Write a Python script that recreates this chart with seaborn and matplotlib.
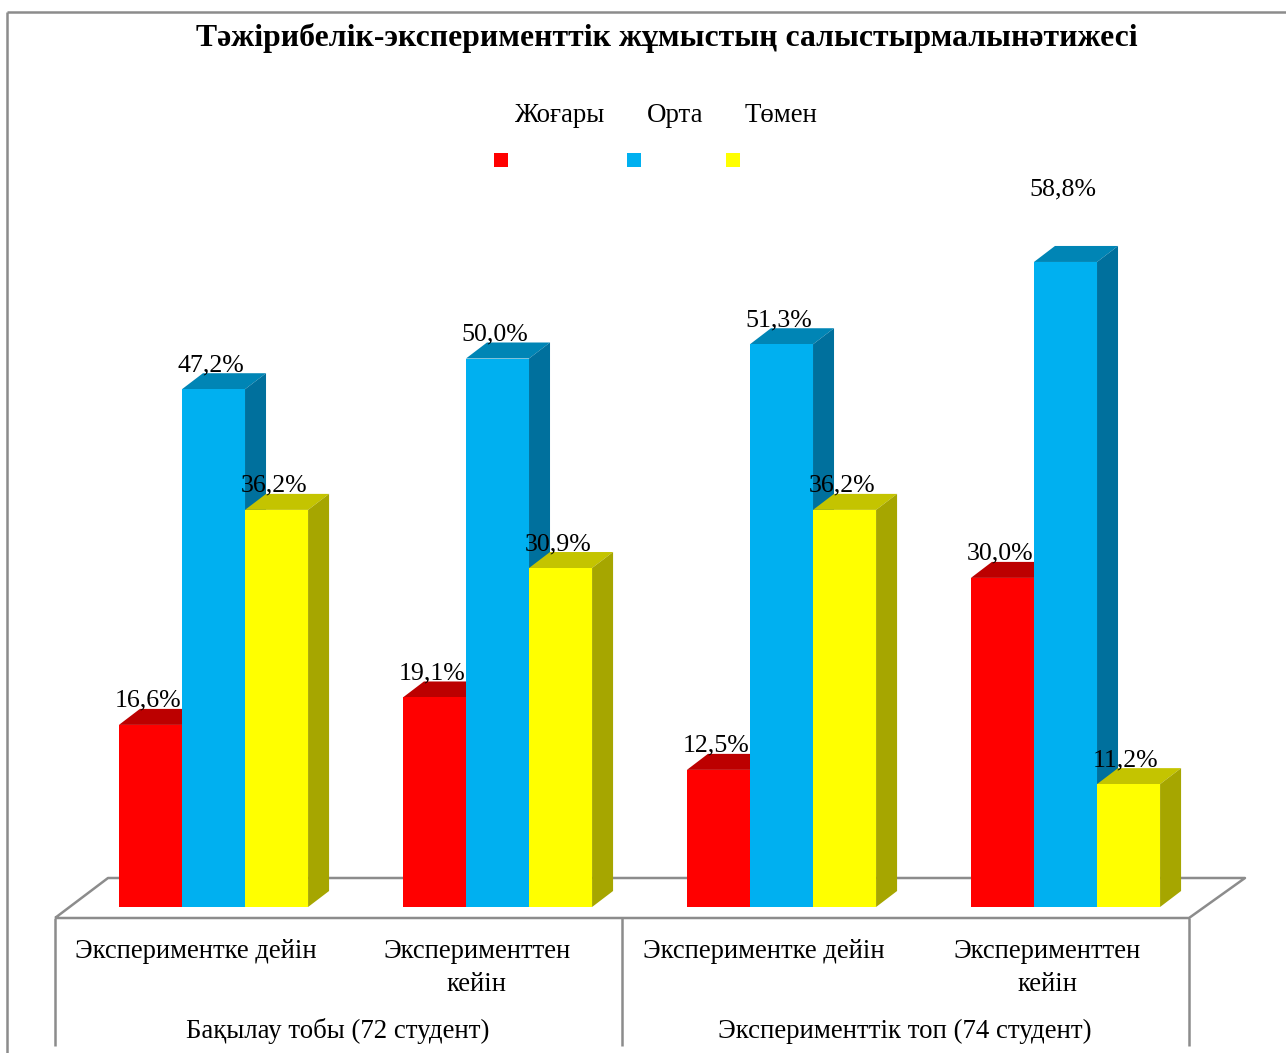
import pandas as pd
import matplotlib.pyplot as plt
import seaborn as sns
from matplotlib.lines import Line2D
from matplotlib.patches import Polygon, Rectangle

W, H = 1286, 1053

title = "Тәжірибелік-эксперименттік жұмыстың салыстырмалынәтижесі"
stages = ["Экспериментке дейін", "Эксперименттен\nкейін", "Экспериментке дейін", "Эксперименттен\nкейін"]
groups = ["Бақылау тобы (72 студент)", "Эксперименттік топ (74 студент)"]
levels = ["Жоғары", "Орта", "Төмен"]
high = [16.6, 19.1, 12.5, 30.0]
mid = [47.2, 50.0, 51.3, 58.8]
low = [36.2, 30.9, 36.2, 11.2]

colors = ["#FF0000", "#00B0F0", "#FFFF00"]
top_colors = ["#BC0000", "#0085B5", "#C4C400"]
side_colors = ["#8F0000", "#00709D", "#A6A600"]
line_gray = "#8C8C8C"


def px(x, y):
    return x / W, 1 - y / H


rows = []
for name, vals in zip(levels, [high, mid, low]):
    for i, v in enumerate(vals):
        rows.append({"stage": i, "level": name, "value": v})
df = pd.DataFrame(rows)

sns.set_style("white")
plt.rcParams["font.family"] = ["Liberation Serif", "DejaVu Serif"]
plt.rcParams["text.color"] = "black"

fig = plt.figure(figsize=(W / 100, H / 100), dpi=100)

# 284 px per category, 10.97 px per percent
ymax = 70
ax_h = ymax * 10.97
ax = fig.add_axes([71.5 / W, 1 - 907 / H, 1136 / W, ax_h / H])
ax.patch.set_alpha(0)

sns.barplot(data=df, x="stage", y="value", hue="level", hue_order=levels,
            palette=colors, width=0.666, gap=0, saturation=1, legend=False,
            linewidth=0, ax=ax, zorder=3)
ax.set_xlim(-0.5, 3.5)
ax.set_ylim(0, ymax)
ax.set_xlabel("")
ax.set_ylabel("")
ax.set_xticks([])
ax.set_yticks([])
sns.despine(ax=ax, left=True, bottom=True)

# depth of the 3d look, in data units
dx = 21 / 284
dy = 16 / 10.97

for s, cont in enumerate(ax.containers):
    for i, bar in enumerate(cont):
        x0 = bar.get_x()
        x1 = x0 + bar.get_width()
        h = bar.get_height()
        bar.set_zorder(3 + 2 * s + 1)
        ax.add_patch(Polygon([(x0, h), (x0 + dx, h + dy), (x1 + dx, h + dy), (x1, h)],
                             fc=top_colors[s], ec="none", zorder=3 + 2 * s))
        ax.add_patch(Polygon([(x1, 0), (x1 + dx, dy), (x1 + dx, h + dy), (x1, h)],
                             fc=side_colors[s], ec="none", zorder=3 + 2 * s))
        # 58,8 sits higher in the original
        off = 73 if h == max(mid) else 24
        ax.annotate(f"{h:.1f}%".replace(".", ","), ((x0 + x1) / 2, h),
                    xytext=(-2, off * 0.72), textcoords="offset points",
                    ha="center", va="center", fontsize=18.6, color="black", zorder=20)


def fig_line(xs, ys, lw=1.8):
    pts = [px(x, y) for x, y in zip(xs, ys)]
    fig.add_artist(Line2D([p[0] for p in pts], [p[1] for p in pts],
                          color=line_gray, lw=lw, zorder=0, solid_capstyle="butt"))


# outer frame, no right or bottom edge
fig_line([7, 7], [1053, 12])
fig_line([7, 1286], [12, 12])

# floor and table lines
fig_line([55, 108, 1245, 1189, 55], [918, 878, 878, 918, 918])
fig_line([55, 55], [918, 1046])
fig_line([622, 622], [918, 1046])
fig_line([1189, 1189], [918, 1046])

x, y = px(666.5, 38)
fig.text(x, y, title, ha="center", va="center", fontsize=22.9, fontweight="bold")

for name, lx, sx, in zip(levels, [559.5, 675, 781], [501, 634, 732.5]):
    x, y = px(lx, 116)
    fig.text(x, y, name, ha="center", va="center", fontsize=19.4)
    sw, sh = 14, 14
    x, y = px(sx - sw / 2, 160 + sh / 2)
    fig.add_artist(Rectangle((x, y), sw / W, sh / H, transform=fig.transFigure,
                             fc=colors[levels.index(name)], ec="none"))

for name, lx in zip(stages, [196, 477, 763.5, 1047]):
    x, y = px(lx, 939)
    fig.text(x, y, name, ha="center", va="top", fontsize=19.2, linespacing=1.42)

for name, lx in zip(groups, [338, 905]):
    x, y = px(lx, 1031)
    fig.text(x, y, name, ha="center", va="center", fontsize=19.4)

fig.savefig("out.png", dpi=100)
